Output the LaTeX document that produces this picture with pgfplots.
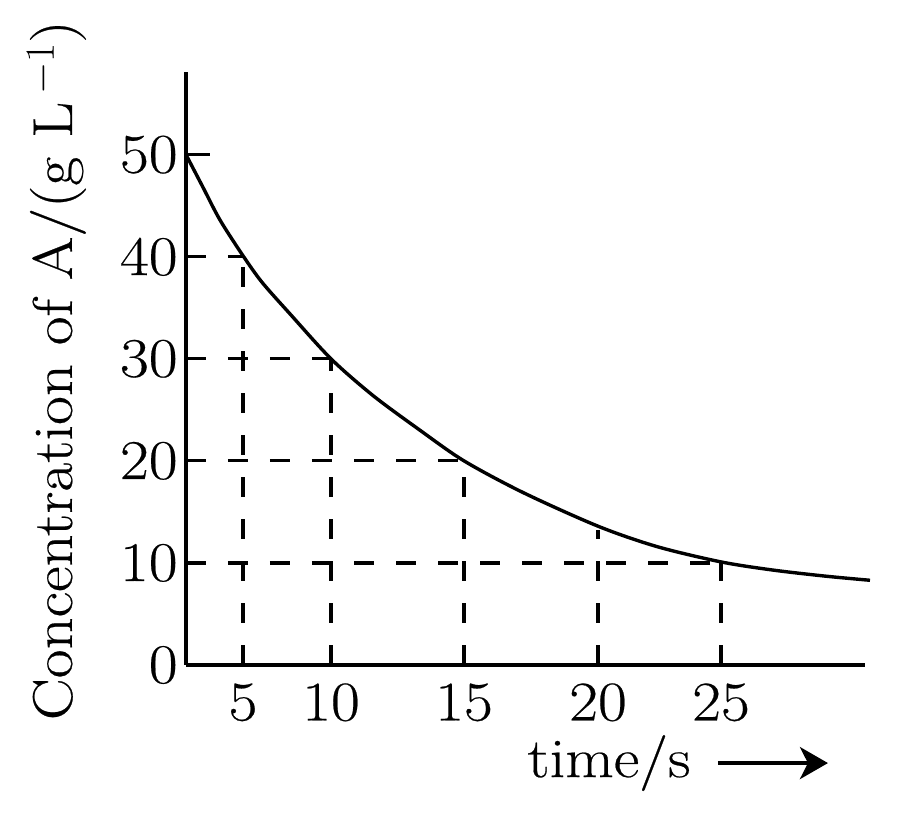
\documentclass[border=0pt]{standalone}
\usepackage{fontspec}
\setmainfont{Latin Modern Roman}[FakeStretch=1.12, FakeBold=0.4]
\usepackage{pgfplots}
\pgfplotsset{compat=1.18}
\usetikzlibrary{arrows.meta}
\begin{document}
\begin{tikzpicture}
\path[use as bounding box] (-93pt,-79.5pt) rectangle (357pt,332.5pt);
\begin{axis}[
  at={(0,0)}, anchor=south west,
  scale only axis, width=339.5pt, height=296.5pt,
  xmin=0, xmax=679, ymin=0, ymax=58.1,
  axis x line*=bottom, axis y line*=left,
  axis line style={line width=2pt,-},
  xtick={57,145,278,412,535}, xticklabels={5,10,15,20,25},
  ytick={0,10,20,30,40,50},
  major tick length=0pt,
  tick label style={font=\fontsize{28}{32}\selectfont, inner sep=0pt},
  /pgf/number format/assume math mode=true,
  xticklabel style={yshift=-9pt},
  yticklabel style={xshift=-4pt},
  xlabel={time/s},
  xlabel style={name=xlab, at={(axis description cs:0.623,-0.189)}, anchor=base, inner sep=0pt, font=\fontsize{28}{32}\selectfont},
  ylabel={Concentration of A/(g L$^{\,-1}$)},
  ylabel style={at={(axis description cs:-0.168,0.497)}, anchor=base, inner sep=0pt, font=\fontsize{28}{32}\selectfont},
  clip=false,
  dashline/.style={line width=1.6pt, dash pattern=on 10pt off 11pt},
]
% solid tick at 50
\addplot[line width=1.7pt] coordinates {(0,50) (24,50)};
% dashed guide lines
\addplot[dashline] coordinates {(0,40) (57,40)};
\addplot[dashline] coordinates {(0,30) (145,30)};
\addplot[dashline] coordinates {(0,20) (278,20)};
\addplot[dashline] coordinates {(0,10) (535,10)};
\addplot[dashline] coordinates {(57,0) (57,40)};
\addplot[dashline] coordinates {(145,0) (145,30)};
\addplot[dashline] coordinates {(278,0) (278,20)};
\addplot[dashline] coordinates {(412,0) (412,13.2)};
\addplot[dashline] coordinates {(535,0) (535,10)};
% concentration curve
\addplot[smooth, line width=1.7pt] coordinates {
(0,50) (17,46.8) (34,43.6) (57,40.1) (76,37.5) (104,34.4) (145,30) (187,26.4)
(234,23.0) (278,20.0) (337,16.9) (412,13.6) (471,11.6) (535,10.1) (587,9.3)
(640,8.7) (684,8.3)};
\end{axis}
\draw[line width=2pt, -{Stealth[length=14pt,width=16pt,inset=4pt]}]
  ([xshift=13.5pt,yshift=7pt]xlab.base east) -- ++(55pt,0);
\end{tikzpicture}
\end{document}
